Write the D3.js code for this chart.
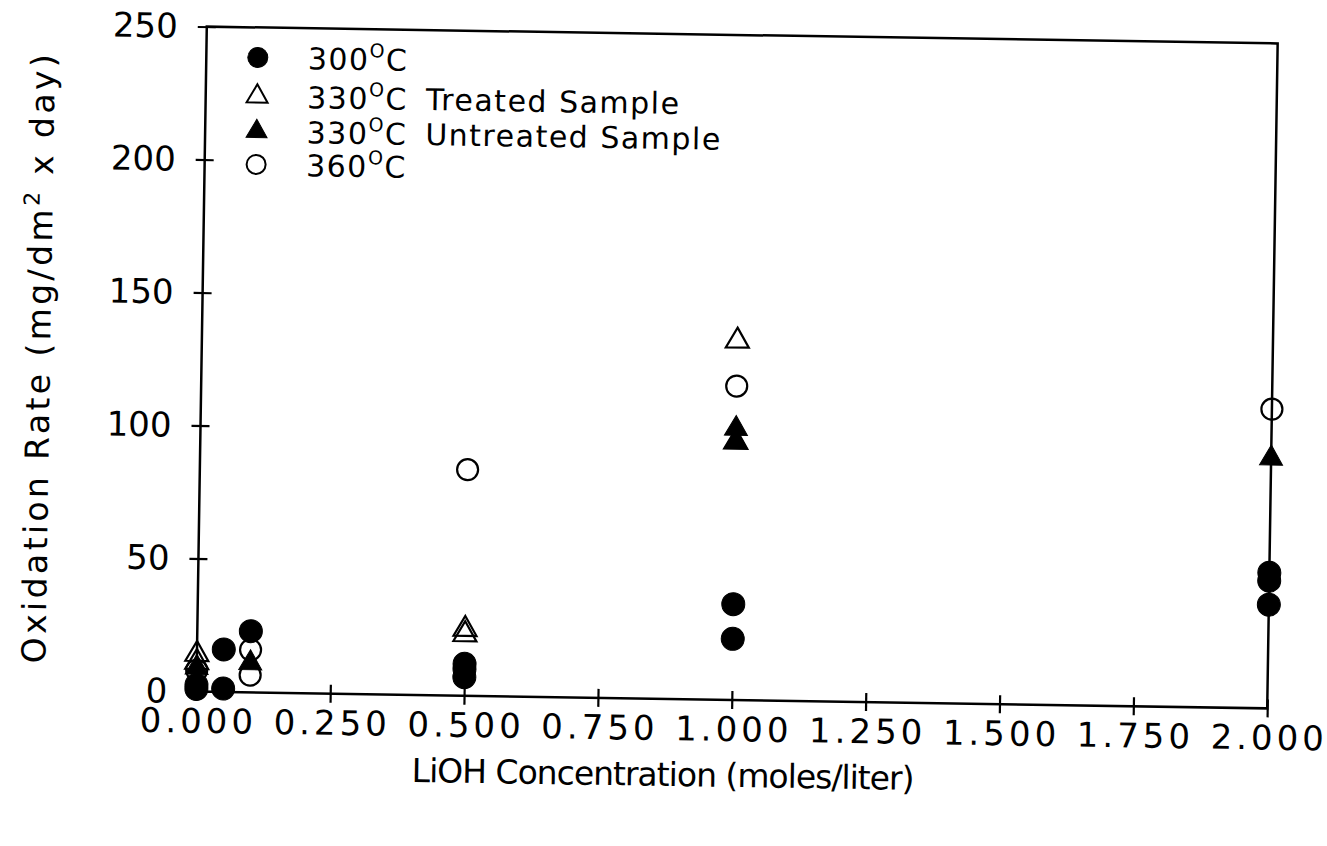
<!DOCTYPE html>
<html>
<head>
<meta charset="utf-8">
<script src="https://cdn.jsdelivr.net/npm/d3@7"></script>
<style>
  html, body { margin: 0; padding: 0; background: #fff; }
  svg { display: block; }
  text { font-family: "DejaVu Sans", sans-serif; fill: #000; }
</style>
</head>
<body>
<svg id="chart" width="1327" height="846"></svg>
<script>
// ---- data ----
const xTicks = [0, 0.25, 0.5, 0.75, 1.0, 1.25, 1.5, 1.75, 2.0];
const xTickLabels = ["0.000","0.250","0.500","0.750","1.000","1.250","1.500","1.750","2.000"];
const yTicks = [0, 50, 100, 150, 200, 250];
const yTickLabels = ["0","50","100","150","200","250"];

const s300x = [0, 0, 0.05, 0.05, 0.1, 0.5, 0.5, 0.5, 1.0, 1.0, 2.0, 2.0, 2.0];
const s300y = [1, 2.5, 16, 1.3, 23, 12, 10, 7, 36, 23, 51, 48, 39];

const s330Tx = [0, 0, 0.5, 0.5, 1.0, 1.0];
const s330Ty = [14, 11, 25, 23, 135, 97];

const s330Ux = [0, 0.1, 1.0, 1.0, 2.0];
const s330Uy = [9, 11, 102, 97, 94];

const s360x = [0, 0.1, 0.1, 0.5, 1.0, 2.0];
const s360y = [8, 16, 6.5, 85, 118, 112.5];

const legendTemps = ["300", "330", "330", "360"];
const legendNotes = ["", "Treated Sample", "Untreated Sample", ""];

// ---- layout ----
const L = 201.5, R = 1272.5, T = 35, B = 700;
const cx = (L + R) / 2, cy = (T + B) / 2;
const svg = d3.select("#chart");
const g = svg.append("g").attr("transform", `rotate(0.9, ${cx}, ${cy})`);

const x = d3.scaleLinear().domain([0, 2]).range([L, R]);
const y = d3.scaleLinear().domain([0, 250]).range([B, T]);

// frame
g.append("rect").attr("x", L).attr("y", T).attr("width", R - L).attr("height", B - T)
  .attr("fill", "none").attr("stroke", "#000").attr("stroke-width", 2.5);

// x axis
const xAxis = g.append("g").attr("transform", `translate(0,${B})`)
  .call(d3.axisBottom(x).tickValues(xTicks).tickSizeOuter(0).tickSizeInner(9)
        .tickFormat((d, i) => xTickLabels[i]).tickPadding(8));
xAxis.select(".domain").remove();
xAxis.selectAll(".tick line").attr("y1", -9).attr("y2", 9).attr("stroke", "#000").attr("stroke-width", 2.2);
xAxis.selectAll(".tick text").attr("font-size", 34).attr("letter-spacing", 4)
  .attr("font-family", "DejaVu Sans").attr("fill", "#000").attr("dx", 2);

// y axis
const yAxis = g.append("g").attr("transform", `translate(${L},0)`)
  .call(d3.axisLeft(y).tickValues(yTicks).tickSizeOuter(0).tickSizeInner(9)
        .tickFormat((d, i) => yTickLabels[i]).tickPadding(20));
yAxis.select(".domain").remove();
yAxis.selectAll(".tick line").attr("x1", -9).attr("x2", 9).attr("stroke", "#000").attr("stroke-width", 2.2);
yAxis.selectAll(".tick text").attr("font-size", 34).attr("letter-spacing", 0)
  .attr("font-family", "DejaVu Sans").attr("fill", "#000");

// axis titles
g.append("text").attr("x", 669).attr("y", 787).attr("text-anchor", "middle")
  .attr("font-size", 33).attr("letter-spacing", -1).text("LiOH Concentration (moles/liter)");

const yl = g.append("text").attr("transform", "translate(50,368) rotate(-90)")
  .attr("text-anchor", "middle").attr("font-size", 33).attr("letter-spacing", 3.4);
yl.append("tspan").text("Oxidation Rate (mg/dm");
yl.append("tspan").attr("font-size", 22).attr("dy", -13).text("2");
yl.append("tspan").attr("dy", 13).text(" x day)");

// symbols
const circ = (r) => d3.symbol().type(d3.symbolCircle).size(Math.PI * r * r)();
const tri = (side) => d3.symbol().type(d3.symbolTriangle).size(Math.sqrt(3) / 4 * side * side)();

function plot(xs, ys, path, filled) {
  g.append("g").selectAll("path").data(xs.map((d, i) => [d, ys[i]])).join("path")
    .attr("transform", d => `translate(${x(d[0])},${y(d[1])})`)
    .attr("d", path)
    .attr("fill", filled ? "#000" : "none")
    .attr("stroke", "#000").attr("stroke-width", filled ? 1 : 2.2);
}
plot(s360x, s360y, circ(10.5), false);
plot(s330Tx, s330Ty, tri(23), false);
plot(s330Ux, s330Uy, tri(23), true);
plot(s300x, s300y, circ(11.5), true);

// legend
const legY = [65, 104, 139, 172];
const legSyms = [circ(10), tri(21), tri(21), circ(9.5)];
const legFill = [true, false, true, false];
const leg = g.append("g");
legendTemps.forEach((t, i) => {
  leg.append("path").attr("transform", `translate(253,${legY[i]})`).attr("d", legSyms[i])
    .attr("fill", legFill[i] ? "#000" : "none").attr("stroke", "#000").attr("stroke-width", legFill[i] ? 1 : 2);
  const tx = leg.append("text").attr("x", 303).attr("y", legY[i] + 11).attr("font-size", 30).attr("letter-spacing", 1.5);
  tx.append("tspan").text(t);
  tx.append("tspan").attr("font-size", 19).attr("dy", -13).text("O");
  tx.append("tspan").attr("dy", 13).text("C");
  if (legendNotes[i]) tx.append("tspan").attr("dx", 18).text(legendNotes[i]);
});
</script>
</body>
</html>
